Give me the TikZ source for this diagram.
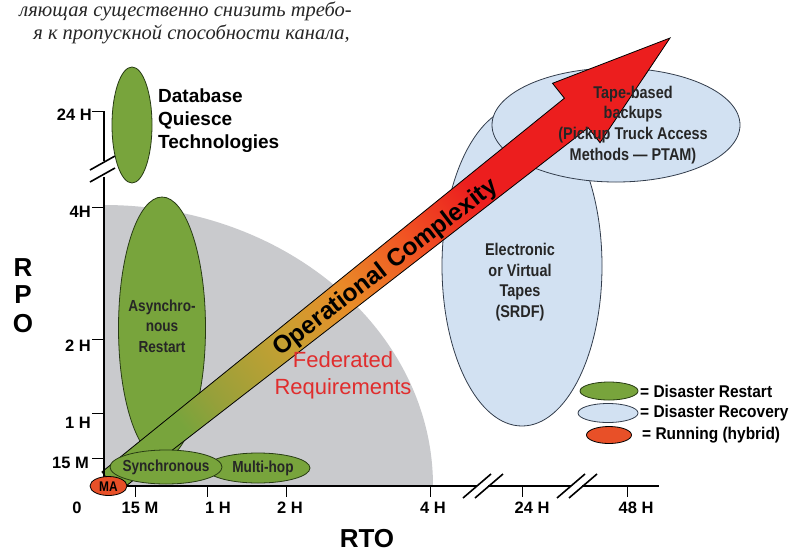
\documentclass[tikz,border=0pt]{standalone}
\usepackage{fontspec}
\setmainfont{Liberation Sans}
\newfontfamily\cnd[FakeStretch=0.85]{Liberation Sans}
\newfontfamily\legf[FakeStretch=0.91]{Liberation Sans}
\newfontfamily\rusfont{Liberation Serif}
\usetikzlibrary{shapes.geometric}
\definecolor{grayreg}{RGB}{201,202,205}
\definecolor{grfill}{RGB}{120,164,60}
\definecolor{grline}{RGB}{40,60,20}
\definecolor{blfill}{RGB}{210,225,242}
\definecolor{blline}{RGB}{50,60,75}
\definecolor{rdfill}{RGB}{232,80,40}
\definecolor{fedred}{RGB}{224,45,45}
\definecolor{arrgreen}{RGB}{120,164,60}
\definecolor{arrolive}{RGB}{150,160,58}
\definecolor{arryel}{RGB}{200,160,50}
\definecolor{arrorange}{RGB}{232,140,40}
\definecolor{arrored}{RGB}{240,85,35}
\definecolor{arrred}{RGB}{236,30,30}
\pgfdeclarehorizontalshading{opshade}{100bp}{color(0bp)=(arrgreen); color(25bp)=(arrgreen); color(29bp)=(arrolive); color(38bp)=(arryel); color(45bp)=(arrorange); color(53bp)=(arrored); color(61bp)=(arrred); color(100bp)=(arrred)}
\tikzset{
  greenell/.style={ellipse, draw=grline, fill=grfill, line width=0.8pt, inner sep=0pt},
  blueell/.style={ellipse, draw=blline, fill=blfill, line width=0.8pt, inner sep=0pt},
  redell/.style={ellipse, draw=black, fill=rdfill, line width=0.8pt, inner sep=0pt},
  lbl/.style={font=\cnd\bfseries\fontsize{16}{20.5}\selectfont, text=black!85, align=center, inner sep=0pt},
  biglbl/.style={font=\cnd\bfseries\fontsize{17}{20.8}\selectfont, text=black!85, align=center, inner sep=0pt},
  ticklbl/.style={font=\bfseries\fontsize{16.5}{18}\selectfont, inner sep=0pt},
  axlbl/.style={font=\bfseries\fontsize{26}{28}\selectfont, inner sep=0pt},
  leglbl/.style={font=\legf\bfseries\fontsize{17}{18}\selectfont, inner sep=0pt, anchor=west},
  axisline/.style={line width=1.6pt, black},
  tickline/.style={line width=1pt, black},
  breakline/.style={line width=1.6pt, black}
}
\begin{document}
\begin{tikzpicture}[x=1pt,y=-1pt]
\useasboundingbox (0,0) rectangle (797,552);
\clip (0,0) rectangle (797,552);
\fill[white] (0,0) rectangle (797,552);

% Russian text (clipped)
\node[font=\rusfont\itshape\fontsize{20.5}{24}\selectfont, anchor=base east, inner sep=0pt, text=black!85] (rus1) at (352,16) {ляющая существенно снизить требо-};
\node[font=\rusfont\itshape\fontsize{20.5}{24}\selectfont, anchor=base east, inner sep=0pt, text=black!85] (rus2) at (350,39) {я к пропускной способности канала,};

% gray region
\fill[grayreg] (104,486) -- (104,205) arc[start angle=90, end angle=0, x radius=329pt, y radius=281pt] -- cycle;

% ellipses (back)
\node[greenell, minimum width=40pt, minimum height=116pt] (dbq) at (132,125) {};
\node[greenell, minimum width=87pt, minimum height=262pt] (async) at (162,328) {};
\node[blueell, minimum width=160pt, minimum height=320pt] (elec) at (522,266) {};
\node[blueell, minimum width=248pt, minimum height=114pt] (tape) at (616,125) {};

% arrow
\coordinate (tu) at (101.9,471.9);
\coordinate (tl) at (118.1,492.1);
\coordinate (bu) at (564.4,98.2);
\coordinate (bl) at (588.2,127.8);
\coordinate (hu) at (552.5,83.3);
\coordinate (hl) at (600.0,142.7);
\coordinate (tip) at (670,38);
\shade[shading=opshade, shading angle=38, draw=black, line width=0.8pt] (tu) -- (bu) -- (hu) -- (tip) -- (hl) -- (bl) -- (tl) -- cycle;
\node[font=\bfseries\fontsize{24.5}{26}\selectfont, rotate=37.5, inner sep=0pt] (opc) at (386,268) {Operational Complexity};

% front ellipses
\node[greenell, minimum width=104pt, minimum height=30pt] (mhop) at (258,468) {};
\node[greenell, minimum width=112pt, minimum height=34pt] (sync) at (166,467) {};

% axes
\draw[axisline] (104,111) -- (104,161);
\draw[axisline] (104,177) -- (104,486) -- (477,486);
\draw[axisline] (488,486) -- (571,486);
\draw[axisline] (582,486) -- (659,486);
\draw[breakline] (90,170) -- (115,156);
\draw[breakline] (90,182) -- (115,168);
\draw[breakline] (463,498) -- (491,474);
\draw[breakline] (475,498) -- (503,474);
\draw[breakline] (557,498) -- (585,474);
\draw[breakline] (569,498) -- (597,474);
\foreach \yy in {111,207,339,413,458} \draw[tickline] (92,\yy) -- (104,\yy);
\foreach \xx in {135,207,286,430,522,627} \draw[tickline] (\xx,486) -- (\xx,497);

% MA
\node[redell, minimum width=37pt, minimum height=19pt] (ma) at (108.5,486) {};
\node[font=\cnd\bfseries\fontsize{14}{14}\selectfont, inner sep=0pt] (matxt) at (108.5,487) {MA};

% labels
\node[lbl] (asynctxt) at (162,326) {Asynchro-\\nous\\Restart};
\node[lbl] (synctxt) at (166,467) {Synchronous};
\node[lbl] (mhoptxt) at (263,468) {Multi-hop};
\node[biglbl] (electxt) at (520,282) {Electronic\\or Virtual\\Tapes\\(SRDF)};
\node[biglbl] (tapetxt) at (633,125) {Tape-based\\backups\\(Pickup Truck Access\\Methods — PTAM)};
\node[font=\bfseries\fontsize{19}{23}\selectfont, align=left, anchor=west, inner sep=0pt] (dbqtxt) at (158,121) {Database\\Quiesce\\Technologies};
\node[font=\fontsize{22}{27}\selectfont, text=fedred, align=center, inner sep=0pt] (fedtxt) at (343,375) {Federated\\Requirements};

% tick labels
\node[ticklbl, anchor=east] (y24) at (92,115) {24 H};
\node[ticklbl, anchor=east] (y4) at (91,212) {4H};
\node[ticklbl, anchor=east] (y2) at (91,346) {2 H};
\node[ticklbl, anchor=east] (y1) at (91,423) {1 H};
\node[ticklbl, anchor=east] (y15) at (89,463) {15 M};
\node[ticklbl] (x0) at (77,508) {0};
\node[ticklbl] (x15) at (140,508) {15 M};
\node[ticklbl] (x1) at (218,508) {1 H};
\node[ticklbl] (x2) at (290,508) {2 H};
\node[ticklbl] (x4) at (433,508) {4 H};
\node[ticklbl] (x24) at (532,508) {24 H};
\node[ticklbl] (x48) at (636,508) {48 H};

\node[axlbl] (r) at (23,268) {R};
\node[axlbl] (p) at (23,295) {P};
\node[axlbl] (o) at (23,324) {O};
\node[axlbl] (rto) at (367,539) {RTO};

% legend
\node[greenell, minimum width=58pt, minimum height=18pt] (lg1) at (609,391) {};
\node[blueell, minimum width=60pt, minimum height=19pt] (lg2) at (608,413) {};
\node[redell, minimum width=45pt, minimum height=17pt] (lg3) at (609,435) {};
\node[leglbl] (lt1) at (640,391) {= Disaster Restart};
\node[leglbl] (lt2) at (640,413) {= Disaster Recovery};
\node[leglbl] (lt3) at (642,435) {= Running (hybrid)};
\end{tikzpicture}
\end{document}
